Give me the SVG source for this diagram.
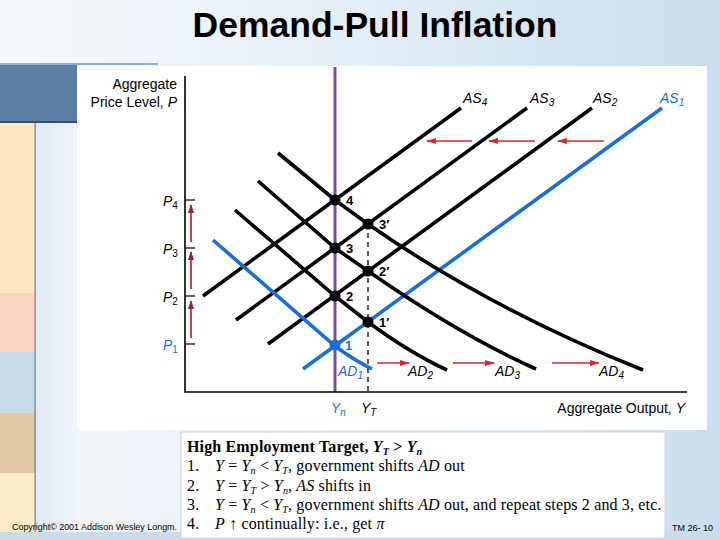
<svg xmlns="http://www.w3.org/2000/svg" width="720" height="540" viewBox="0 0 720 540">
<defs>
<linearGradient id="bg" x1="0" y1="0" x2="1" y2="0">
<stop offset="0" stop-color="#f6f9fc"/>
<stop offset="0.5" stop-color="#e4eef6"/>
<stop offset="1" stop-color="#c9deec"/>
</linearGradient>
<linearGradient id="bgl" x1="0" y1="0" x2="1" y2="0">
<stop offset="0" stop-color="#dfeaf4"/>
<stop offset="1" stop-color="#eef4f9"/>
</linearGradient>
<marker id="ar" viewBox="0 0 10 6" refX="9" refY="3" markerWidth="10" markerHeight="6" markerUnits="userSpaceOnUse" orient="auto">
<path d="M0,0 L10,3 L0,6 Z" fill="#d42a2a"/>
</marker>
<marker id="av" viewBox="0 0 9 6" refX="8" refY="3" markerWidth="9" markerHeight="6" markerUnits="userSpaceOnUse" orient="auto">
<path d="M0,0 L9,3 L0,6 Z" fill="#9c1f2e"/>
</marker>
</defs>
<style>
.ax{stroke:#000;stroke-width:1.6;fill:none}
.tk{stroke:#000;stroke-width:1.2}
.cv{stroke:#000;stroke-width:3.6;fill:none;stroke-linecap:butt}
.bl{stroke:#1a6fd4}
.sh{stroke:#d42a2a;stroke-width:1.5;fill:none}
.up{stroke:#9c1f2e;stroke-width:1.6;fill:none}
.dot{fill:#000}
.sans{font-family:"Liberation Sans",Arial,sans-serif;font-size:14px;fill:#000}
.it{font-style:italic}
.num{font-family:"Liberation Sans",Arial,sans-serif;font-size:13px;font-weight:bold;fill:#000}
.ser{font-family:"Liberation Serif","Times New Roman",serif;font-size:16px;letter-spacing:0.15px;fill:#000}
.blue{fill:#1a6fd4}
</style>

<!-- background -->
<rect x="0" y="0" width="720" height="540" fill="url(#bg)"/>
<rect x="35" y="122" width="42" height="410" fill="url(#bgl)"/>
<rect x="0" y="64" width="77" height="58" fill="#5b80a4"/>
<rect x="0" y="63" width="158" height="2" fill="#8fb0cc"/>
<rect x="0" y="121" width="77" height="2" fill="#34506c"/>
<rect x="0" y="123" width="35" height="170" fill="#fde6c2"/>
<rect x="0" y="293" width="35" height="59" fill="#fbd3c3"/>
<rect x="0" y="352" width="35" height="61" fill="#c6dcea"/>
<rect x="0" y="413" width="35" height="60" fill="#e3c8a6"/>
<rect x="0" y="473" width="35" height="59" fill="#fdebc9"/>
<rect x="34.5" y="123" width="1.2" height="409" fill="#6f7f8c"/>
<rect x="0" y="532" width="720" height="8" fill="#c8dcea"/>

<!-- title -->
<text x="375" y="37" text-anchor="middle" font-family="'Liberation Sans',Arial,sans-serif" font-size="35.5" font-weight="bold" fill="#000">Demand-Pull Inflation</text>

<!-- graph panel -->
<rect id="panel" x="77" y="66" width="630" height="364" fill="#ffffff"/>

<g id="connectors">
<line x1="335" y1="67" x2="335" y2="392" stroke="#7b4a9a" stroke-width="3"/>
<line x1="368" y1="224" x2="368" y2="392" stroke="#000" stroke-width="1.3" stroke-dasharray="5,4"/>
<line id="AS1" class="cv bl" x1="303" y1="369" x2="662" y2="108"/>
<line id="AS2" class="cv" x1="268" y1="344" x2="592" y2="108"/>
<line id="AS3" class="cv" x1="236" y1="320" x2="527" y2="108"/>
<line id="AS4" class="cv" x1="203" y1="296" x2="461" y2="108"/>
<path id="AD1" class="cv bl" d="M213,240 L335,346 Q353,359.5 372,369"/>
<path id="AD2" class="cv" d="M235,210 L335,296 L368,322 Q410,353 447,370"/>
<path id="AD3" class="cv" d="M258,181 L335,248 L368,271 Q458,334 536,369"/>
<path id="AD4" class="cv" d="M278,153 L335,200 L368,224 Q488,308 643,370"/>
<line class="sh" x1="604" y1="141" x2="558" y2="141" marker-end="url(#ar)"/>
<line class="sh" x1="535" y1="141" x2="489" y2="141" marker-end="url(#ar)"/>
<line class="sh" x1="472" y1="141" x2="427" y2="141" marker-end="url(#ar)"/>
<line class="sh" x1="377" y1="363" x2="409" y2="363" marker-end="url(#ar)"/>
<line class="sh" x1="453" y1="363" x2="494" y2="363" marker-end="url(#ar)"/>
<line class="sh" x1="552" y1="363" x2="599" y2="363" marker-end="url(#ar)"/>
<line class="up" x1="191" y1="338" x2="191" y2="301" marker-end="url(#av)"/>
<line class="up" x1="191" y1="289" x2="191" y2="252" marker-end="url(#av)"/>
<line class="up" x1="191" y1="242" x2="191" y2="205" marker-end="url(#av)"/>
</g>

<g id="axes">
<polyline class="ax" points="185,76 185,392 687,392"/>
<line class="tk" x1="185" y1="200" x2="195" y2="200"/>
<line class="tk" x1="185" y1="248" x2="195" y2="248"/>
<line class="tk" x1="185" y1="296" x2="195" y2="296"/>
<line class="tk" x1="185" y1="344" x2="195" y2="344"/>
<text class="sans" x="177" y="89" text-anchor="end">Aggregate</text>
<text class="sans" x="177" y="107" text-anchor="end">Price Level, <tspan class="it">P</tspan></text>
<text class="sans" x="685" y="413" text-anchor="end">Aggregate Output, <tspan class="it">Y</tspan></text>
<text class="sans it blue" x="331" y="413">Y<tspan dy="3" font-size="10">n</tspan></text>
<text class="sans it" x="361" y="413">Y<tspan dy="3" font-size="10">T</tspan></text>
<text class="sans" x="163" y="206"><tspan class="it">P</tspan><tspan dy="3" font-size="10">4</tspan></text>
<text class="sans" x="163" y="254"><tspan class="it">P</tspan><tspan dy="3" font-size="10">3</tspan></text>
<text class="sans" x="163" y="302"><tspan class="it">P</tspan><tspan dy="3" font-size="10">2</tspan></text>
<text class="sans blue" x="163" y="350"><tspan class="it">P</tspan><tspan dy="3" font-size="10">1</tspan></text>
</g>

<g id="labels">
<text class="sans it" x="463" y="103">AS<tspan dy="3" font-size="10">4</tspan></text>
<text class="sans it" x="530" y="103">AS<tspan dy="3" font-size="10">3</tspan></text>
<text class="sans it" x="593" y="103">AS<tspan dy="3" font-size="10">2</tspan></text>
<text class="sans it blue" x="660" y="103">AS<tspan dy="3" font-size="10">1</tspan></text>
<text class="sans it blue" x="338" y="376">AD<tspan dy="3" font-size="10">1</tspan></text>
<text class="sans it" x="408" y="376">AD<tspan dy="3" font-size="10">2</tspan></text>
<text class="sans it" x="495" y="376">AD<tspan dy="3" font-size="10">3</tspan></text>
<text class="sans it" x="599" y="376">AD<tspan dy="3" font-size="10">4</tspan></text>
</g>

<g id="pt4"><circle class="dot" cx="335" cy="200" r="5.5"/><text class="num" x="346" y="205">4</text></g>
<g id="pt3"><circle class="dot" cx="335" cy="248" r="5.5"/><text class="num" x="346" y="253">3</text></g>
<g id="pt2"><circle class="dot" cx="335" cy="296" r="5.5"/><text class="num" x="346" y="301">2</text></g>
<g id="pt1"><circle cx="335" cy="345" r="5.5" fill="#1a6fd4"/><text class="num blue" x="345" y="350">1</text></g>
<g id="pt3p"><circle class="dot" cx="368" cy="224" r="5.5"/><text class="num" x="379" y="229">3′</text></g>
<g id="pt2p"><circle class="dot" cx="368" cy="271" r="5.5"/><text class="num" x="379" y="276">2′</text></g>
<g id="pt1p"><circle class="dot" cx="368" cy="322" r="5.5"/><text class="num" x="379" y="327">1′</text></g>

<text x="12" y="530" font-family="'Liberation Sans',Arial,sans-serif" font-size="9.5" textLength="165" lengthAdjust="spacingAndGlyphs" fill="#000">Copyright© 2001 Addison Wesley Longm.</text>
<text x="672" y="531" font-family="'Liberation Sans',Arial,sans-serif" font-size="9" fill="#000">TM 26- 10</text>

<g id="notes">
<rect x="181" y="432" width="484" height="106" fill="#ffffff" stroke="#c3d3df" stroke-width="1"/>
<text class="ser" x="187" y="452" font-size="15.5" font-weight="bold">High Employment Target, <tspan class="it">Y</tspan><tspan class="it" dy="3" font-size="10">T</tspan><tspan dy="-3"> &gt; </tspan><tspan class="it">Y</tspan><tspan class="it" dy="3" font-size="10">n</tspan></text>
<text class="ser" x="187" y="471">1.</text>
<text class="ser" x="215" y="471"><tspan class="it">Y</tspan> = <tspan class="it">Y</tspan><tspan class="it" dy="3" font-size="10">n</tspan><tspan dy="-3"> &lt; </tspan><tspan class="it">Y</tspan><tspan class="it" dy="3" font-size="10">T</tspan><tspan dy="-3">, government shifts </tspan><tspan class="it">AD</tspan> out</text>
<text class="ser" x="187" y="491">2.</text>
<text class="ser" x="215" y="491"><tspan class="it">Y</tspan> = <tspan class="it">Y</tspan><tspan class="it" dy="3" font-size="10">T</tspan><tspan dy="-3"> &gt; </tspan><tspan class="it">Y</tspan><tspan class="it" dy="3" font-size="10">n</tspan><tspan dy="-3">, </tspan><tspan class="it">AS</tspan> shifts in</text>
<text class="ser" x="187" y="510">3.</text>
<text class="ser" x="215" y="510"><tspan class="it">Y</tspan> = <tspan class="it">Y</tspan><tspan class="it" dy="3" font-size="10">n</tspan><tspan dy="-3"> &lt; </tspan><tspan class="it">Y</tspan><tspan class="it" dy="3" font-size="10">T</tspan><tspan dy="-3">, government shifts </tspan><tspan class="it">AD</tspan> out, and repeat steps 2 and 3, etc.</text>
<text class="ser" x="187" y="529">4.</text>
<text class="ser" x="215" y="529"><tspan class="it">P</tspan> ↑ continually: i.e., get <tspan class="it">π</tspan></text>
</g>
</svg>
